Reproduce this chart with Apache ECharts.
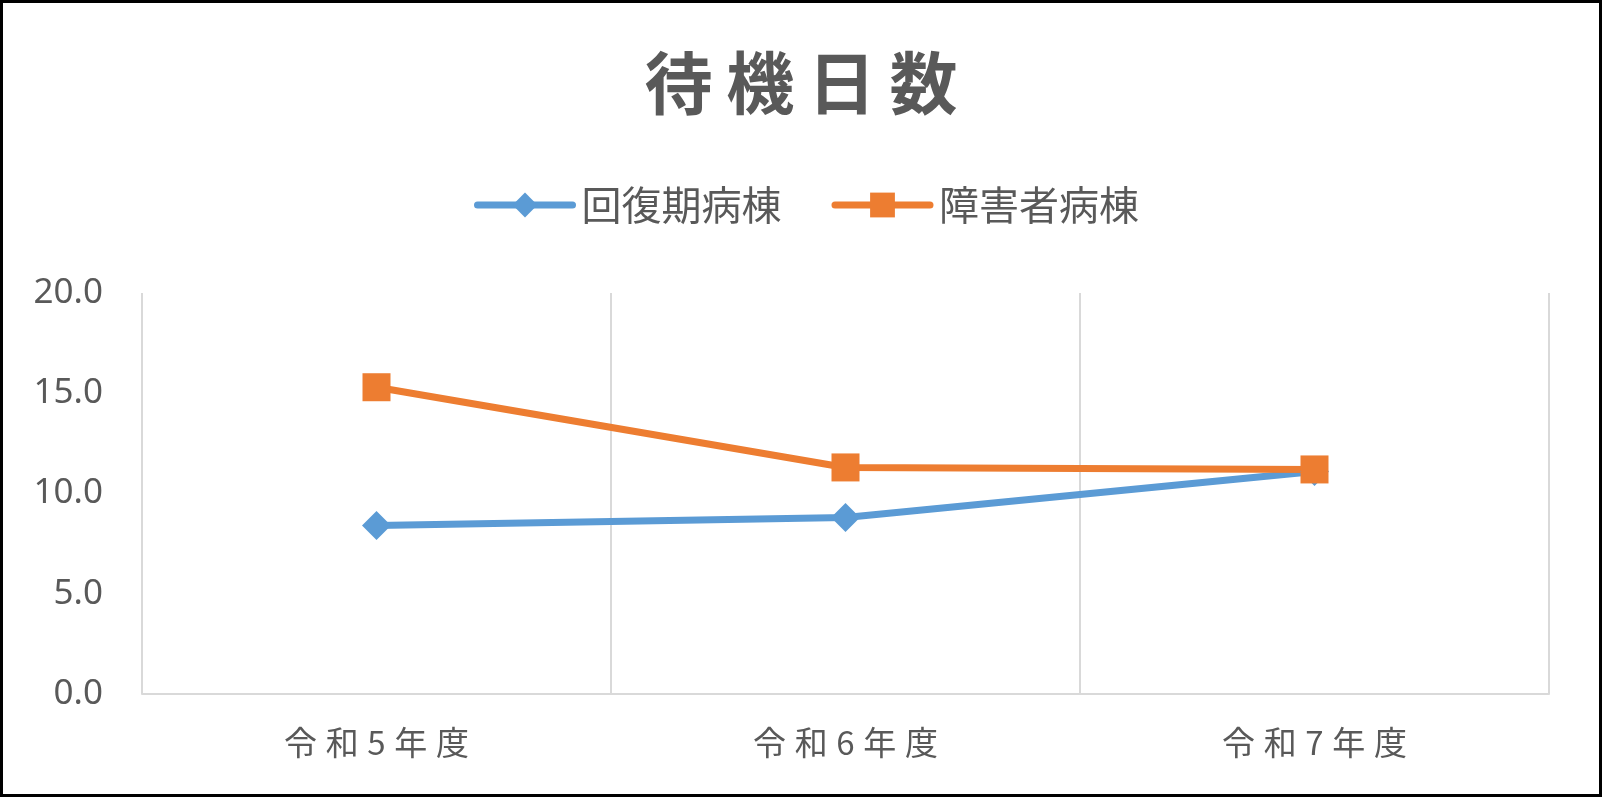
<!DOCTYPE html>
<html>
<head>
<meta charset="utf-8">
<script src="https://cdn.jsdelivr.net/npm/echarts@6/dist/echarts.min.js"></script>
<style>
  html, body { margin: 0; padding: 0; background: #fff; }
  #main { width: 1602px; height: 797px; }
</style>
</head>
<body>
<div id="main"></div>
<script>
// 年度
var categories = ['令和5年度', '令和6年度', '令和7年度'];
// 回復期病棟
var kaifukuki = [8.4, 8.8, 11.1];
// 障害者病棟
var shogaisha = [15.3, 11.3, 11.2];
var yTicks = [0, 5, 10, 15, 20];

var font = '"Noto Sans CJK JP", "Noto Sans", sans-serif';
var gray = '#595959';

// 文字の間隔をあける
function spaced(s, sep) {
    return s.split('').join(sep || '\u2009');
}

var myChart = echarts.init(document.getElementById('main'));

var option = {
    backgroundColor: '#fff',
    animation: false,
    title: {
        text: spaced('待機日数'),
        left: 'center',
        top: 49,
        padding: 0,
        textStyle: { fontFamily: font, fontSize: 68, fontWeight: 'bold', color: gray, lineHeight: 68 }
    },
    legend: {
        left: 474,
        top: 185,
        padding: 0,
        itemWidth: 95,
        itemHeight: 31,
        itemGap: 50,
        lineStyle: { width: 7, cap: 'round' },
        textStyle: { fontFamily: font, fontSize: 40, color: gray, padding: [0, 0, 0, 4] }
    },
    grid: { left: 142, right: 53, top: 293, bottom: 103, containLabel: false },
    xAxis: {
        type: 'category',
        data: categories,
        boundaryGap: true,
        axisLine: { lineStyle: { color: '#d9d9d9', width: 2 } },
        axisTick: { show: false },
        splitLine: { show: true, lineStyle: { color: '#d9d9d9', width: 2 } },
        axisLabel: {
            fontFamily: font, fontSize: 33, color: gray, margin: 32, lineHeight: 33,
            formatter: function (v) { return spaced(v, '\u2009\u200a'); }
        }
    },
    yAxis: {
        type: 'value',
        min: yTicks[0],
        max: yTicks[yTicks.length - 1],
        interval: yTicks[1] - yTicks[0],
        axisLine: { show: false },
        axisTick: { show: false },
        splitLine: { show: false },
        axisLabel: {
            fontFamily: '"Noto Sans", sans-serif', fontSize: 35, color: gray, margin: 39,
            formatter: function (v) { return v.toFixed(1); }
        }
    },
    series: [
        {
            name: '回復期病棟',
            type: 'line',
            data: kaifukuki,
            symbol: 'diamond',
            symbolSize: 29,
            lineStyle: { color: '#5B9BD5', width: 7, cap: 'round' },
            itemStyle: { color: '#5B9BD5' }
        },
        {
            name: '障害者病棟',
            type: 'line',
            data: shogaisha,
            symbol: 'rect',
            symbolSize: 28,
            lineStyle: { color: '#ED7D31', width: 7, cap: 'round' },
            itemStyle: { color: '#ED7D31' }
        }
    ],
    graphic: [{
        type: 'rect',
        shape: { x: 1.5, y: 1.5, width: 1599, height: 794 },
        style: { fill: null, stroke: '#000', lineWidth: 3 },
        silent: true
    }]
};

myChart.setOption(option);
</script>
</body>
</html>
